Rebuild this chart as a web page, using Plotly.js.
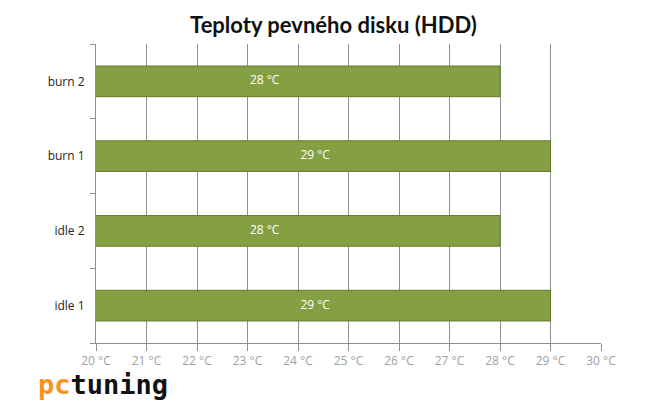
<!DOCTYPE html>
<html><head><meta charset="utf-8">
<script src="https://cdn.plot.ly/plotly-3.0.1.min.js"></script>
<style>body{margin:0;background:#fff}#c{width:650px;height:401px}</style>
</head><body><div id="c"></div>
<script>
const categories = ["idle 1", "idle 2", "burn 1", "burn 2"];
const temps = [29, 28, 29, 28];
const labels = ["29 °C", "28 °C", "29 °C", "28 °C"];
const xTicks = [20,21,22,23,24,25,26,27,28,29,30];
const xTickText = xTicks.map(v => v + " °C");
const labelBackoff = 4.66; // label sits this far (in °C) left of the bar end

Plotly.newPlot("c", [{
  type: "bar", orientation: "h",
  y: categories, x: temps,
  marker: {color: "#85a043", line: {color: "#62792c", width: 1}},
  width: 0.41, hoverinfo: "none"
}, {
  type: "scatter", mode: "text",
  y: categories, x: temps.map(t => t - labelBackoff),
  text: labels, textposition: "middle center",
  textfont: {color: "#ffffff", size: 12, family: "Open Sans, sans-serif"},
  hoverinfo: "none"
}], {
  width: 650, height: 401,
  margin: {l: 96, r: 49, t: 44, b: 58},
  paper_bgcolor: "#fff", plot_bgcolor: "#fff",
  title: {text: "<b>Teploty pevného disku (HDD)</b>", x: 0.513, xanchor: "center", y: 0.937, yanchor: "middle",
    font: {family: "Lato, Open Sans, sans-serif", size: 22, color: "#111"}},
  xaxis: {range: [20, 30], tickvals: xTicks, ticktext: xTickText,
    showgrid: true, gridcolor: "#8f8f8f", gridwidth: 1,
    showline: true, linecolor: "#8f8f8f", linewidth: 1,
    ticks: "outside", ticklen: 7, tickcolor: "#8f8f8f",
    tickfont: {family: "Open Sans, sans-serif", size: 12, color: "#a0a0a0"},
    zeroline: false, fixedrange: true},
  yaxis: {type: "category", categoryorder: "array", categoryarray: categories,
    showgrid: false, showline: true, linecolor: "#8f8f8f", linewidth: 1,
    ticks: "outside", ticklen: 5, tickcolor: "#8f8f8f", tickson: "boundaries",
    ticklabelstandoff: 8,
    tickfont: {family: "Open Sans, sans-serif", size: 12, color: "#222"},
    zeroline: false, fixedrange: true},
  showlegend: false,
  annotations: [{
    xref: "paper", yref: "paper", x: -0.118, y: -0.14, xanchor: "left", yanchor: "middle",
    showarrow: false,
    text: "<b><span style='color:#f7931e'>pc</span><span style='color:#111'>tuning</span></b>",
    font: {family: "DejaVu Sans Mono, monospace", size: 27}
  }]
}, {staticPlot: true});
</script></body></html>
